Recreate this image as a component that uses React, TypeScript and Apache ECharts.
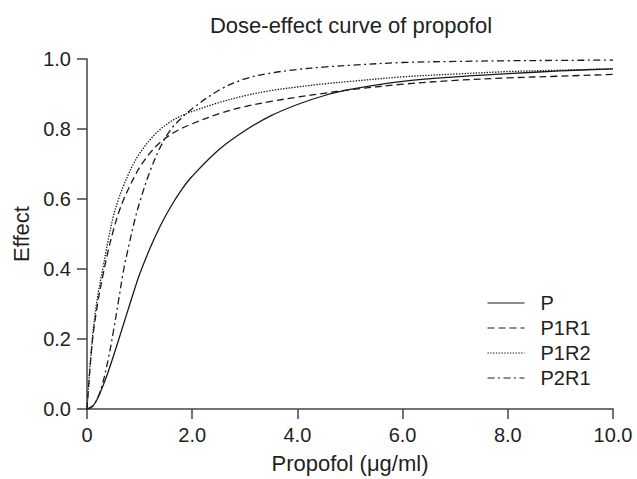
import React, { useEffect, useRef } from "react";
import * as echarts from "echarts";

const doses = [0, 0.1, 0.2, 0.3, 0.4, 0.5, 0.6, 0.7, 0.8, 0.9, 1.0, 1.2, 1.4, 1.6, 1.8, 2.0, 2.5, 3.0, 3.5, 4.0, 4.5, 5.0, 6.0, 7.0, 8.0, 9.0, 10.0];

const effectP = [0, 0.006, 0.03, 0.065, 0.105, 0.15, 0.197, 0.245, 0.293, 0.34, 0.385, 0.46, 0.525, 0.58, 0.627, 0.665, 0.74, 0.795, 0.838, 0.87, 0.895, 0.913, 0.936, 0.949, 0.958, 0.966, 0.972];
const effectP1R1 = [0, 0.19, 0.3, 0.38, 0.45, 0.51, 0.56, 0.6, 0.633, 0.663, 0.69, 0.732, 0.763, 0.785, 0.802, 0.815, 0.843, 0.864, 0.879, 0.891, 0.902, 0.912, 0.928, 0.939, 0.946, 0.951, 0.956];
const effectP1R2 = [0, 0.2, 0.32, 0.4, 0.48, 0.55, 0.6, 0.64, 0.675, 0.705, 0.73, 0.77, 0.8, 0.822, 0.838, 0.85, 0.875, 0.895, 0.91, 0.92, 0.929, 0.936, 0.949, 0.957, 0.964, 0.968, 0.972];
const effectP2R1 = [0, 0.008, 0.03, 0.075, 0.14, 0.22, 0.31, 0.4, 0.47, 0.535, 0.59, 0.68, 0.75, 0.8, 0.832, 0.858, 0.91, 0.943, 0.96, 0.97, 0.977, 0.982, 0.99, 0.993, 0.995, 0.996, 0.997];

const seriesNames = ["P", "P1R1", "P1R2", "P2R1"];
const seriesValues = [effectP, effectP1R1, effectP1R2, effectP2R1];
const yTicks = [0, 0.2, 0.4, 0.6, 0.8, 1.0];
const xTicks = [0, 2, 4, 6, 8, 10];

const dashes: any[] = ["solid", [7, 4], [1.4, 1.4], [7, 3.5, 2, 3.5]];
const FONT = "'Liberation Sans', Arial, Helvetica, sans-serif";
const INK = "#231f20";
const FS = 20;
const FS_NAME = 22;

export default function App() {
  const ref = useRef<HTMLDivElement>(null);
  useEffect(() => {
    document.body.style.margin = "0";
    const chart = echarts.init(ref.current!, null, { renderer: "svg" });
    const series = seriesNames.map((name, i) => ({
      name,
      type: "line",
      data: doses.map((d, j) => [d, seriesValues[i][j]]),
      smooth: 0.35,
      symbol: "none",
      lineStyle: { color: "#1a1a1a", width: 1.3, type: dashes[i] },
      itemStyle: { color: "#1a1a1a" },
    }));
    chart.setOption({
      animation: false,
      backgroundColor: "#ffffff",
      textStyle: { fontFamily: FONT },
      grid: { left: 87, right: 24, top: 59, bottom: 69, containLabel: false },
      graphic: [
        {
          type: "text",
          x: 351,
          y: 14,
          style: {
            text: "Dose-effect curve of propofol",
            font: `${FS_NAME}px ${FONT}`,
            fill: INK,
            textAlign: "center",
            textVerticalAlign: "top",
          },
        },
      ],
      legend: {
        orient: "vertical",
        left: 482,
        top: 288,
        itemWidth: 37,
        itemHeight: 14,
        itemGap: 5,
        data: seriesNames,
        itemStyle: { opacity: 0 },
        lineStyle: { width: 1 },
        textStyle: { fontSize: FS, color: INK, fontFamily: FONT, padding: [0, 0, 0, 11], lineHeight: 18 },
      },
      xAxis: {
        type: "value",
        min: 0,
        max: 10,
        interval: 2,
        name: "Propofol (\u03bcg/ml)",
        nameLocation: "middle",
        nameGap: 43,
        nameTextStyle: { fontSize: FS_NAME, color: INK, fontFamily: FONT },
        axisLine: { show: true, lineStyle: { color: "#444", width: 1.5 } },
        axisTick: { show: true, length: 10, lineStyle: { color: "#444", width: 1.5 } },
        axisLabel: {
          fontSize: FS,
          color: INK,
          margin: 16,
          fontFamily: FONT,
          formatter: (v: number) => (xTicks.includes(v) ? (v === 0 ? "0" : v.toFixed(1)) : ""),
        },
        splitLine: { show: false },
      },
      yAxis: {
        type: "value",
        min: 0,
        max: 1,
        interval: 0.2,
        name: "Effect",
        nameLocation: "middle",
        nameGap: 55,
        nameRotate: 90,
        nameTextStyle: { fontSize: FS_NAME, color: INK, fontFamily: FONT },
        axisLine: { show: true, lineStyle: { color: "#444", width: 1.5 } },
        axisTick: { show: true, length: 10, lineStyle: { color: "#444", width: 1.5 } },
        axisLabel: {
          fontSize: FS,
          color: INK,
          margin: 16,
          fontFamily: FONT,
          formatter: (v: number) => {
            const t = yTicks.find((y) => Math.abs(y - v) < 1e-6);
            return t === undefined ? "" : t.toFixed(1);
          },
        },
        splitLine: { show: false },
      },
      series,
    });
    return () => chart.dispose();
  }, []);
  return <div ref={ref} style={{ width: 637, height: 479 }} />;
}
